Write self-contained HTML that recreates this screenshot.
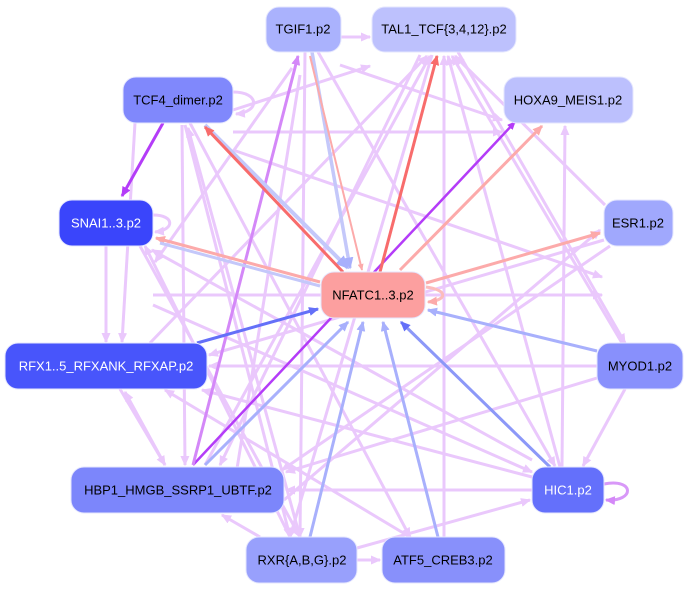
<!DOCTYPE html>
<html><head><meta charset="utf-8"><style>
body{margin:0;background:#fff;width:687px;height:590px;overflow:hidden}
svg text{font-family:"Liberation Sans",sans-serif;font-size:13px;text-anchor:middle;dominant-baseline:central}
</style></head><body>
<svg width="687" height="590" viewBox="0 0 687 590">
<defs>
<marker id="mL" markerWidth="3.4" markerHeight="3" refX="3" refY="1.5" orient="auto" markerUnits="strokeWidth"><path d="M0,0L3.4,1.5L0,3z" fill="#eac8fc"/></marker>
<marker id="mP" markerWidth="3.4" markerHeight="3" refX="3" refY="1.5" orient="auto" markerUnits="strokeWidth"><path d="M0,0L3.4,1.5L0,3z" fill="#b43cf8"/></marker>
<marker id="mM" markerWidth="3.4" markerHeight="3" refX="3" refY="1.5" orient="auto" markerUnits="strokeWidth"><path d="M0,0L3.4,1.5L0,3z" fill="#d488f8"/></marker>
<marker id="mR" markerWidth="3.4" markerHeight="3" refX="3" refY="1.5" orient="auto" markerUnits="strokeWidth"><path d="M0,0L3.4,1.5L0,3z" fill="#f86c6c"/></marker>
<marker id="mK" markerWidth="3.4" markerHeight="3" refX="3" refY="1.5" orient="auto" markerUnits="strokeWidth"><path d="M0,0L3.4,1.5L0,3z" fill="#fcaaaa"/></marker>
<marker id="mB" markerWidth="3.4" markerHeight="3" refX="3" refY="1.5" orient="auto" markerUnits="strokeWidth"><path d="M0,0L3.4,1.5L0,3z" fill="#a8b0fc"/></marker>
<marker id="mD" markerWidth="3.4" markerHeight="3" refX="3" refY="1.5" orient="auto" markerUnits="strokeWidth"><path d="M0,0L3.4,1.5L0,3z" fill="#6470f8"/></marker>
</defs>
<g stroke="#eac8fc" stroke-width="3" fill="none" marker-end="url(#mL)">
<line x1="341" y1="37" x2="370" y2="37"/>
<line x1="233" y1="110" x2="370" y2="66"/>
<line x1="340" y1="65" x2="502" y2="120"/>
<line x1="233" y1="132" x2="502" y2="132"/>
<line x1="233" y1="150" x2="602" y2="277"/>
<line x1="292" y1="68" x2="155" y2="262"/>
<line x1="153" y1="295" x2="602" y2="295"/>
<line x1="153" y1="305" x2="532" y2="472"/>
<line x1="318" y1="52" x2="555" y2="466"/>
<line x1="150" y1="343" x2="427" y2="56"/>
<line x1="205" y1="465" x2="430" y2="56"/>
<line x1="444" y1="537" x2="444" y2="56"/>
<line x1="560" y1="467" x2="448" y2="56"/>
<line x1="622" y1="343" x2="452" y2="56"/>
<line x1="605" y1="205" x2="455" y2="56"/>
<line x1="562" y1="467" x2="565" y2="126"/>
<line x1="106" y1="246" x2="106" y2="342"/>
<line x1="135" y1="123" x2="122" y2="342"/>
<line x1="597" y1="366" x2="209" y2="366"/>
<line x1="604" y1="240" x2="209" y2="355"/>
<line x1="597" y1="378" x2="286" y2="472"/>
<line x1="532" y1="490" x2="286" y2="490"/>
<line x1="532" y1="477" x2="202" y2="390"/>
<line x1="410" y1="537" x2="165" y2="390"/>
<line x1="260" y1="537" x2="222" y2="515"/>
<line x1="357" y1="560" x2="380" y2="560"/>
<line x1="357" y1="548" x2="530" y2="500"/>
<line x1="120" y1="389" x2="165" y2="465"/>
<line x1="165" y1="465" x2="125" y2="392"/>
<line x1="190" y1="123" x2="410" y2="537"/>
<line x1="185" y1="125" x2="290" y2="537"/>
<line x1="182" y1="125" x2="185" y2="465"/>
<line x1="140" y1="246" x2="300" y2="537"/>
<line x1="610" y1="246" x2="282" y2="470"/>
<line x1="625" y1="389" x2="583" y2="466"/>
<line x1="458" y1="52" x2="625" y2="343"/>
<line x1="305" y1="52" x2="300" y2="537"/>
<line x1="290" y1="537" x2="145" y2="246"/>
<line x1="284" y1="500" x2="600" y2="230"/>
<line x1="300" y1="75" x2="232" y2="500"/>
<line x1="532" y1="460" x2="152" y2="250"/>
<line x1="300" y1="537" x2="188" y2="128"/>
<line x1="420" y1="55" x2="220" y2="465"/>
<line x1="432" y1="55" x2="290" y2="537"/>
<path d="M233 92 C260 92 260 112 236 114"/>
<path d="M153 215 C175 215 175 230 155 232"/>
</g>
<g fill="none" stroke-width="3">
<line x1="163" y1="123" x2="122" y2="196" stroke="#b43cf8" marker-end="url(#mP)"/>
<line x1="193" y1="465" x2="515" y2="122" stroke="#b43cf8" stroke-width="2.5" marker-end="url(#mP)"/>
<line x1="193" y1="465" x2="298" y2="56" stroke="#d488f8" marker-end="url(#mM)"/>
<line x1="205" y1="125" x2="348" y2="268" stroke="#c4c8fa" stroke-width="4" marker-end="url(#mB)"/>
<line x1="343" y1="272" x2="205" y2="127" stroke="#f86c6c" marker-end="url(#mR)"/>
<line x1="380" y1="272" x2="437" y2="56" stroke="#f86c6c" marker-end="url(#mR)"/>
<line x1="400" y1="270" x2="542" y2="126" stroke="#fcaaaa" marker-end="url(#mK)"/>
<line x1="426" y1="283" x2="600" y2="233" stroke="#fcaaaa" marker-end="url(#mK)"/>
<line x1="320" y1="282" x2="156" y2="238" stroke="#fcaaaa" marker-end="url(#mK)"/>
<line x1="320" y1="286" x2="160" y2="243" stroke="#c4c8fa"/>
<line x1="312" y1="52" x2="350" y2="268" stroke="#c4c8fa" stroke-width="3.5" marker-end="url(#mB)"/>
<line x1="310" y1="56" x2="362" y2="270" stroke="#fcaaaa" stroke-width="2" marker-end="url(#mK)"/>
<path d="M426 287 C448 290 448 300 428 302" stroke="#fcbcbc" marker-end="url(#mK)"/>
<line x1="197" y1="343" x2="318" y2="309" stroke="#6470f8" marker-end="url(#mD)"/>
<line x1="597" y1="351" x2="428" y2="310" stroke="#a8b0fc" marker-end="url(#mB)"/>
<line x1="205" y1="465" x2="348" y2="322" stroke="#a8b0fc" marker-end="url(#mB)"/>
<line x1="310" y1="537" x2="363" y2="322" stroke="#a8b0fc" marker-end="url(#mB)"/>
<line x1="438" y1="537" x2="383" y2="322" stroke="#a8b0fc" marker-end="url(#mB)"/>
<line x1="550" y1="467" x2="401" y2="322" stroke="#8c98f8" marker-end="url(#mD)"/>
<path d="M604 484 C635 478 635 502 606 500" stroke="#d898f8" marker-end="url(#mM)"/>
</g>
<g stroke="#e4e6fe" stroke-width="1">
<rect x="266" y="7" width="75" height="45" rx="13" fill="#aab2fd"/>
<rect x="372" y="7" width="144" height="45" rx="13" fill="#bdc1fd"/>
<rect x="123" y="77" width="110" height="46" rx="13" fill="#8088fc"/>
<rect x="504" y="77" width="129" height="46" rx="13" fill="#bcc0fd"/>
<rect x="59" y="200" width="94" height="46" rx="13" fill="#3a45fb"/>
<rect x="604" y="200" width="69" height="46" rx="13" fill="#a0a8fd"/>
<rect x="321" y="272" width="104" height="46" rx="13" fill="#fc9f9f"/>
<rect x="5" y="343" width="202" height="46" rx="13" fill="#4855fb"/>
<rect x="597" y="343" width="86" height="46" rx="13" fill="#8890fc"/>
<rect x="71" y="467" width="213" height="46" rx="13" fill="#7c86fb"/>
<rect x="532" y="467" width="72" height="46" rx="13" fill="#6470fb"/>
<rect x="246" y="537" width="111" height="46" rx="13" fill="#98a0fc"/>
<rect x="382" y="537" width="123" height="46" rx="13" fill="#8890fb"/>
</g>
<g fill="#000">
<text x="303" y="29">TGIF1.p2</text>
<text x="444" y="29">TAL1_TCF{3,4,12}.p2</text>
<text x="178" y="100">TCF4_dimer.p2</text>
<text x="568" y="100">HOXA9_MEIS1.p2</text>
<text x="106" y="223" fill="#fff">SNAI1..3.p2</text>
<text x="638" y="223">ESR1.p2</text>
<text x="373" y="295">NFATC1..3.p2</text>
<text x="106" y="366" fill="#fff">RFX1..5_RFXANK_RFXAP.p2</text>
<text x="640" y="366">MYOD1.p2</text>
<text x="178" y="490">HBP1_HMGB_SSRP1_UBTF.p2</text>
<text x="568" y="490" fill="#fff">HIC1.p2</text>
<text x="302" y="560">RXR{A,B,G}.p2</text>
<text x="443" y="560">ATF5_CREB3.p2</text>
</g>
</svg>
</body></html>
